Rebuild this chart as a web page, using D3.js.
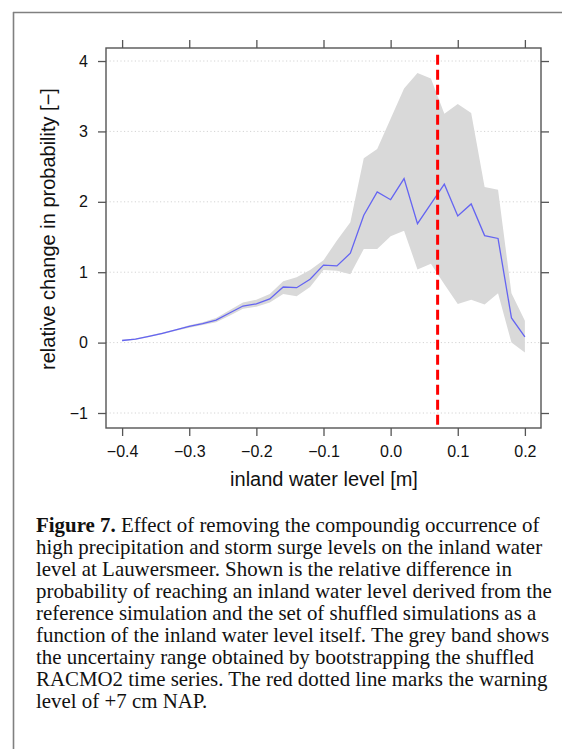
<!DOCTYPE html>
<html>
<head>
<meta charset="utf-8">
<script src="https://cdn.jsdelivr.net/npm/d3@7"></script>
<style>
  html, body { margin: 0; padding: 0; background: #fff; }
  svg { display: block; }
</style>
</head>
<body>
<svg id="chart" width="562" height="749"></svg>
<script>
// ---- data ----
const waterLevel = [-0.40, -0.38, -0.36, -0.34, -0.32, -0.30, -0.28, -0.26, -0.24, -0.22,
                    -0.20, -0.18, -0.16, -0.14, -0.12, -0.10, -0.08, -0.06, -0.04, -0.02,
                     0.00,  0.02,  0.04,  0.06,  0.08,  0.10,  0.12,  0.14,  0.16,  0.18, 0.20];
const relChange  = [0.03, 0.05, 0.09, 0.13, 0.18, 0.23, 0.27, 0.32, 0.42, 0.52,
                    0.55, 0.62, 0.79, 0.78, 0.90, 1.10, 1.09, 1.27, 1.81, 2.14,
                    2.03, 2.33, 1.69, 1.97, 2.25, 1.80, 1.97, 1.52, 1.48, 0.35, 0.08];
const bandLower  = [0.02, 0.04, 0.08, 0.12, 0.17, 0.21, 0.25, 0.29, 0.38, 0.48,
                    0.51, 0.57, 0.69, 0.66, 0.79, 1.03, 1.02, 0.97, 1.33, 1.33,
                    1.51, 1.59, 1.04, 1.12, 0.83, 0.55, 0.61, 0.54, 0.70, 0.00, -0.14];
const bandUpper  = [0.04, 0.06, 0.10, 0.145, 0.19, 0.245, 0.29, 0.35, 0.46, 0.57,
                    0.61, 0.69, 0.87, 0.93, 1.03, 1.17, 1.45, 1.71, 2.62, 2.75,
                    3.18, 3.61, 3.83, 3.75, 3.25, 3.39, 3.26, 2.21, 2.17, 0.70, 0.31];
const warningLevel = 0.07;
const warningSpan = [-1.213, 4.09];
const xTicks = [-0.4, -0.3, -0.2, -0.1, 0.0, 0.1, 0.2];
const yTicks = [-1, 0, 1, 2, 3, 4];
const xDomain = [-0.424, 0.224];
const yDomain = [-1.213, 4.185];
const xLabel = "inland water level [m]";
const yLabel = "relative change in probability [\u2212]";
const captionBold = "Figure 7.";
const captionLines = [
  " Effect of removing the compoundig occurrence of",
  "high precipitation and storm surge levels on the inland water",
  "level at Lauwersmeer. Shown is the relative difference in",
  "probability of reaching an inland water level derived from the",
  "reference simulation and the set of shuffled simulations as a",
  "function of the inland water level itself. The grey band shows",
  "the uncertainy range obtained by bootstrapping the shuffled",
  "RACMO2 time series. The red dotted line marks the warning",
  "level of +7 cm NAP."
];

// ---- layout ----
const box = { left: 106, right: 541, top: 48, bottom: 428 };
const svg = d3.select("#chart");

// outer figure frame (top and left rules)
svg.append("line").attr("x1", 13).attr("x2", 562).attr("y1", 12.5).attr("y2", 12.5)
  .attr("stroke", "#808080").attr("stroke-width", 1.6);
svg.append("line").attr("x1", 13.5).attr("x2", 13.5).attr("y1", 12).attr("y2", 749)
  .attr("stroke", "#808080").attr("stroke-width", 1.6);

const x = d3.scaleLinear().domain(xDomain).range([box.left, box.right]);
const y = d3.scaleLinear().domain(yDomain).range([box.bottom, box.top]);

const data = waterLevel.map((w, i) => ({ w, v: relChange[i], lo: bandLower[i], hi: bandUpper[i] }));

// grid
svg.append("g").selectAll("line").data(yTicks).join("line")
  .attr("x1", box.left).attr("x2", box.right)
  .attr("y1", d => y(d)).attr("y2", d => y(d))
  .attr("stroke", "#d4d4d4").attr("stroke-width", 1).attr("stroke-dasharray", "1.2,2.4");

// band
svg.append("path").datum(data)
  .attr("d", d3.area().x(d => x(d.w)).y0(d => y(d.lo)).y1(d => y(d.hi)))
  .attr("fill", "#d9d9d9");

// mean line
svg.append("path").datum(data)
  .attr("d", d3.line().x(d => x(d.w)).y(d => y(d.v)))
  .attr("fill", "none").attr("stroke", "#6464f2").attr("stroke-width", 1.3);

// warning level
svg.append("line")
  .attr("x1", x(warningLevel)).attr("x2", x(warningLevel))
  .attr("y1", y(warningSpan[1])).attr("y2", y(warningSpan[0]))
  .attr("stroke", "#ff0000").attr("stroke-width", 3).attr("stroke-dasharray", "10,5");

// axes
const fmtX = d3.format(".1f");
const axisStyle = g => {
  g.select(".domain").remove();
  g.selectAll(".tick line").attr("stroke", "#555").attr("stroke-width", 1.3);
  g.selectAll(".tick text").attr("fill", "#111")
    .style("font-family", "'Liberation Sans', Arial, sans-serif").style("font-size", "16px");
};
svg.append("g").attr("transform", `translate(0,${box.bottom})`)
  .call(d3.axisBottom(x).tickValues(xTicks).tickFormat(fmtX).tickSize(8).tickPadding(10))
  .call(axisStyle);
svg.append("g").attr("transform", `translate(0,${box.top})`)
  .call(d3.axisTop(x).tickValues(xTicks).tickFormat("").tickSize(8))
  .call(axisStyle);
svg.append("g").attr("transform", `translate(${box.left},0)`)
  .call(d3.axisLeft(y).tickValues(yTicks).tickFormat(d3.format("d")).tickSize(8).tickPadding(10))
  .call(axisStyle);
svg.append("g").attr("transform", `translate(${box.right},0)`)
  .call(d3.axisRight(y).tickValues(yTicks).tickFormat("").tickSize(8))
  .call(axisStyle);

// panel box
svg.append("rect")
  .attr("x", box.left).attr("y", box.top)
  .attr("width", box.right - box.left).attr("height", box.bottom - box.top)
  .attr("fill", "none").attr("stroke", "#555").attr("stroke-width", 1.4);

// axis titles
svg.append("text")
  .attr("x", 324).attr("y", 486)
  .attr("text-anchor", "middle")
  .style("font-family", "'Liberation Sans', Arial, sans-serif").style("font-size", "20px")
  .attr("fill", "#111").text(xLabel);
svg.append("text")
  .attr("transform", `translate(55,229) rotate(-90)`)
  .attr("text-anchor", "middle")
  .style("font-family", "'Liberation Sans', Arial, sans-serif").style("font-size", "20px")
  .attr("fill", "#111").text(yLabel);

// caption
const cap = svg.append("g")
  .style("font-family", "'Liberation Serif', 'Times New Roman', serif")
  .style("font-size", "20.9px").attr("fill", "#111");
captionLines.forEach((line, i) => {
  const t = cap.append("text").attr("x", 36).attr("y", 532 + i * 22);
  if (i === 0) {
    t.append("tspan").style("font-weight", "bold").text(captionBold);
  }
  t.append("tspan").text(line);
});
</script>
</body>
</html>
